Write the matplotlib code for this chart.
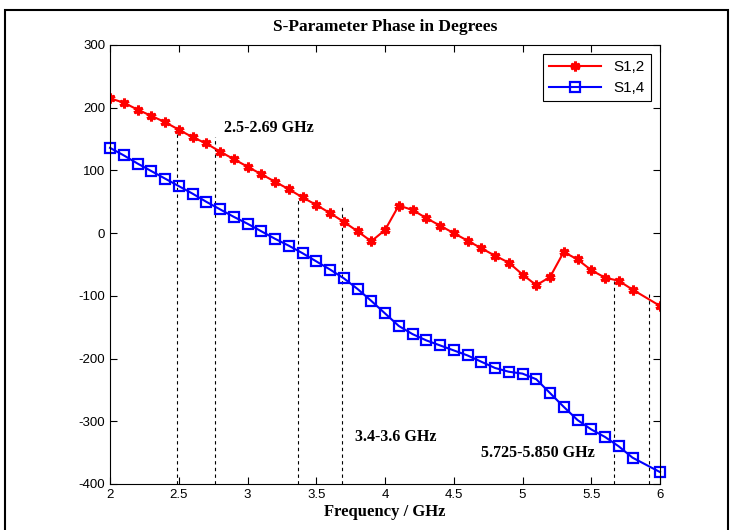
import numpy as np
import matplotlib
matplotlib.use('Agg')
import matplotlib.pyplot as plt
from matplotlib.patches import Rectangle

plt.rcParams['axes.unicode_minus'] = False

freq = [2.0, 2.1, 2.2, 2.3, 2.4, 2.5, 2.6, 2.7, 2.8, 2.9,
        3.0, 3.1, 3.2, 3.3, 3.4, 3.5, 3.6, 3.7, 3.8, 3.9,
        4.0, 4.1, 4.2, 4.3, 4.4, 4.5, 4.6, 4.7, 4.8, 4.9,
        5.0, 5.1, 5.2, 5.3, 5.4, 5.5, 5.6, 5.7, 5.8, 6.0]
s12 = [215, 208, 197, 187, 177, 165, 153, 143, 130, 118,
       106, 94, 82, 70, 57, 45, 32, 18, 3, -13,
       5, 44, 37, 24, 12, 0, -12, -24, -36, -47,
       -66, -83, -70, -30, -42, -59, -71, -76, -90, -116]
s14 = [136, 124, 111, 99, 87, 75, 63, 50, 38, 26,
       15, 3, -9, -20, -32, -45, -58, -72, -89, -108,
       -128, -148, -161, -171, -179, -187, -195, -205, -215, -221,
       -224, -233, -255, -277, -298, -313, -325, -340, -358, -381]

# dashed band markers (x, top value)
band_x = [2.49, 2.76, 3.37, 3.69, 5.665, 5.92]
band_top = [174, 153, 55, 42, -77, -92]

band_labels = ['2.5-2.69 GHz', '3.4-3.6 GHz', '5.725-5.850 GHz']
label_pos = [(2.83, 167), (3.78, -325), (4.70, -351)]

serif = 'Liberation Serif'
sans = 'Liberation Sans'

fig = plt.figure(figsize=(7.34, 5.30), dpi=100)
ax = fig.add_axes([0.1499, 0.0868, 0.7493, 0.8283])

for xb, yt in zip(band_x, band_top):
    ax.plot([xb, xb], [-400, yt], color='k', linestyle=(0, (3, 3)), linewidth=0.8)

ax.plot(freq, s12, color='red', linewidth=1.5, marker=(6, 2, 0),
        markersize=7, markeredgewidth=2.2, label='S1,2')
ax.plot(freq, s14, color='blue', linewidth=1.5, marker='s', markersize=7,
        markerfacecolor='none', markeredgewidth=1.6, label='S1,4', clip_on=False)

for txt, (xt, yt) in zip(band_labels, label_pos):
    ax.text(xt, yt, txt, fontfamily=serif, fontweight='bold', fontsize=11.5,
            va='center', ha='left')

ax.set_xlim(2, 6)
ax.set_ylim(-400, 300)
ax.set_xticks(np.arange(2, 6.01, 0.5))
ax.set_xticklabels(['2', '2.5', '3', '3.5', '4', '4.5', '5', '5.5', '6'])
ax.set_yticks(np.arange(-400, 301, 100))
ax.tick_params(direction='in', top=True, right=True, length=5, labelsize=9.5)
for lab in ax.get_xticklabels() + ax.get_yticklabels():
    lab.set_fontfamily(sans)

ax.set_title('S-Parameter Phase in Degrees', fontfamily=serif,
             fontweight='bold', fontsize=12.5, pad=10)
ax.set_xlabel('Frequency / GHz', fontfamily=serif, fontweight='bold',
              fontsize=12, labelpad=2)

leg = ax.legend(loc='upper right', prop={'family': sans, 'size': 11},
                fancybox=False, edgecolor='k', framealpha=1,
                borderaxespad=0.6, handlelength=3.4, labelspacing=0.45)
leg.get_frame().set_linewidth(0.8)

# outer figure frame
fig.patches.append(Rectangle((5 / 734, -0.01), 723 / 734, 1 - 10 / 530 + 0.01,
                             transform=fig.transFigure, fill=False,
                             edgecolor='k', linewidth=1.5))

fig.savefig('out.png', dpi=100)
